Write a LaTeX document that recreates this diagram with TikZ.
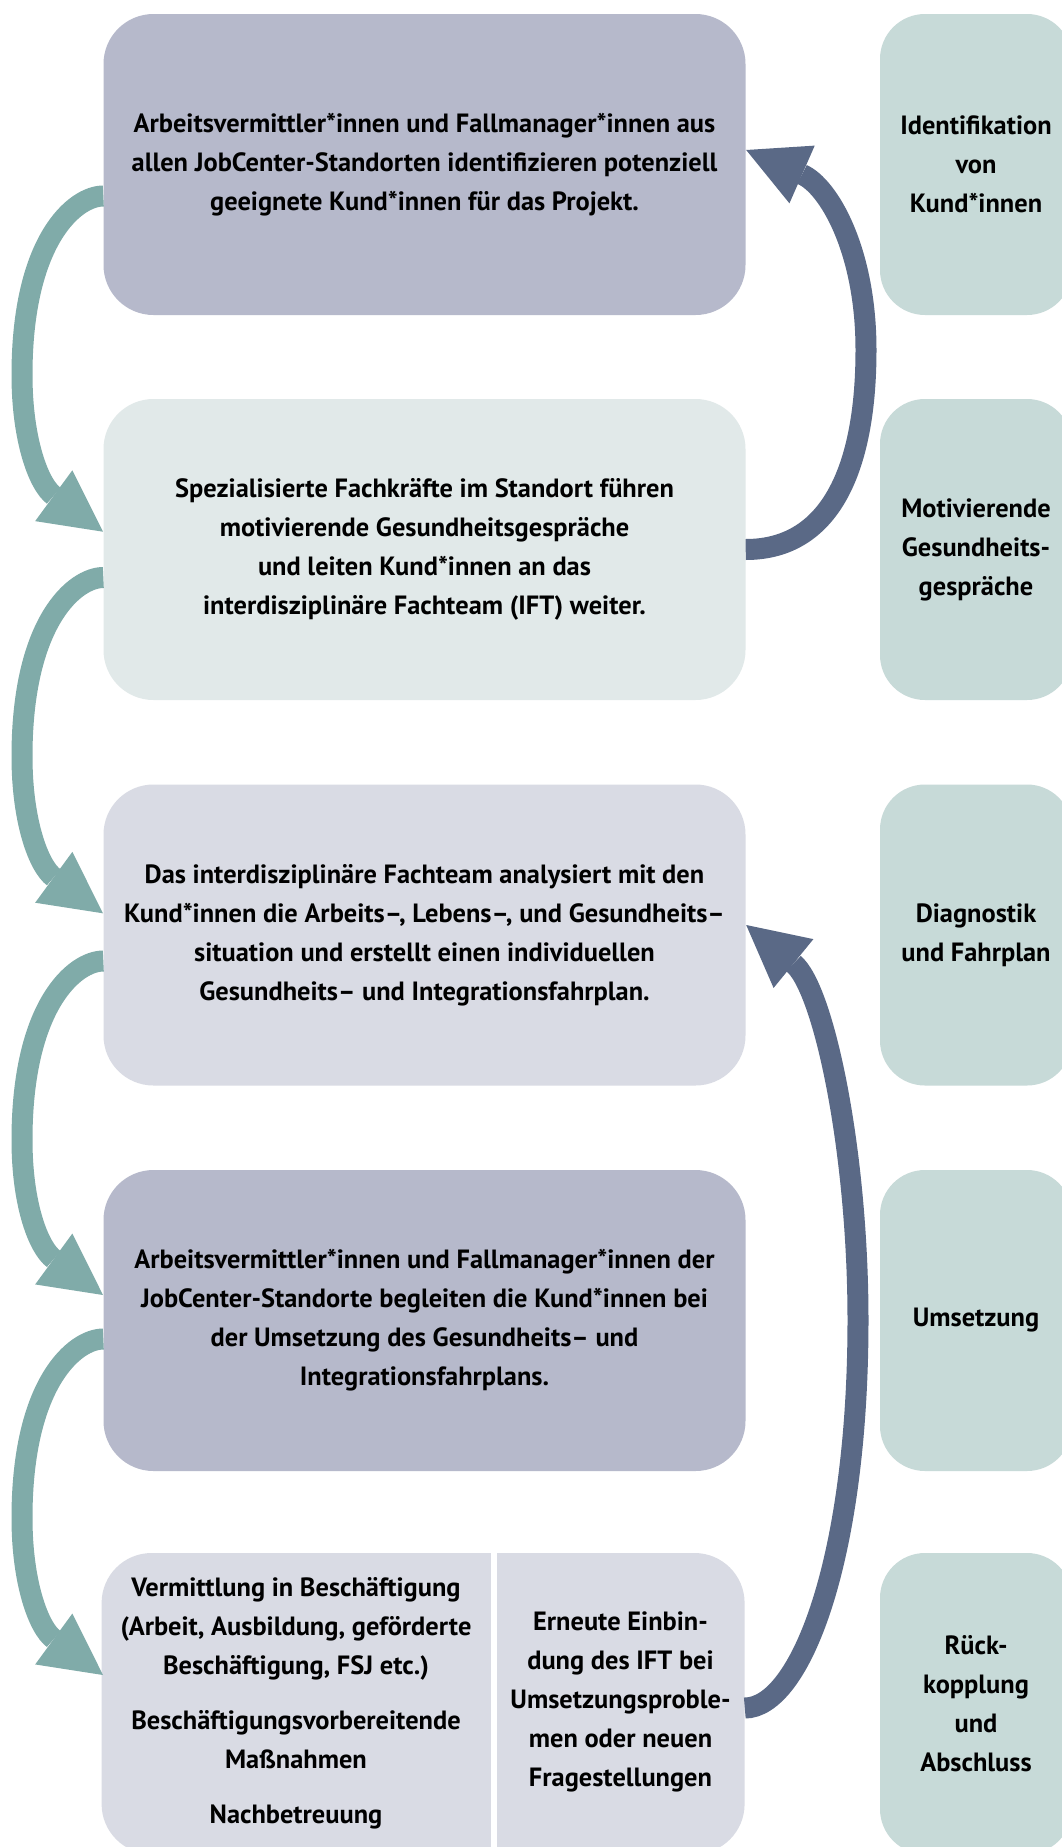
\documentclass[tikz,border=0pt]{standalone}
\usepackage{fontspec}
\setmainfont{PT Sans}
\usetikzlibrary{arrows.meta,calc}
\definecolor{boxA}{HTML}{B6B9CB}
\definecolor{boxB}{HTML}{E1E9E9}
\definecolor{boxC}{HTML}{D9DBE4}
\definecolor{sidec}{HTML}{C7DAD8}
\definecolor{tealc}{HTML}{80ABA9}
\definecolor{navyc}{HTML}{5A6986}
\tikzset{
  txt/.style={font=\bfseries\fontsize{26.4}{39}\selectfont, align=center, text=black},
  mainbox/.style={txt, rounded corners=50pt, minimum width=642pt, minimum height=301pt, inner sep=0pt},
  sidebox/.style={txt, fill=sidec, rounded corners=45pt, minimum width=192pt, minimum height=301pt, inner sep=0pt},
  tarrow/.style={draw=tealc, line width=21pt, -{Triangle[length=61pt,width=63pt,line width=0pt]}},
  narrow/.style={draw=navyc, line width=21pt, -{Triangle[length=61pt,width=63pt,line width=0pt]}}
}
\begin{document}
\begin{tikzpicture}[x=1pt,y=-1pt]
\useasboundingbox (0,0) rectangle (1061,1847);
\fill[white] (0,0) rectangle (1061,1847);
% main boxes
\node[mainbox, fill=boxA] (b1) at (424.5,164.5) {Arbeitsvermittler*innen und Fallmanager*innen aus\\allen JobCenter-Standorten identifizieren potenziell\\geeignete Kund*innen für das Projekt.};
\node[mainbox, fill=boxB] (b2) at (424.5,549.5) {Spezialisierte Fachkräfte im Standort führen\\motivierende Gesundheitsgespräche\\und leiten Kund*innen an das\\interdisziplinäre Fachteam (IFT) weiter.};
\node[mainbox, fill=boxC] (b3) at (424.5,935) {Das interdisziplinäre Fachteam analysiert mit den\\Kund*innen die Arbeits–, Lebens–, und Gesundheits–\\situation und erstellt einen individuellen\\Gesundheits– und Integrationsfahrplan.};
\node[mainbox, fill=boxA] (b4) at (424.5,1320.5) {Arbeitsvermittler*innen und Fallmanager*innen der\\JobCenter-Standorte begleiten die Kund*innen bei\\der Umsetzung des Gesundheits– und\\Integrationsfahrplans.};
\node[mainbox, fill=boxC, minimum width=643pt] (b5) at (423.1,1703.5) {};
\draw[white, line width=6pt] (b5.north -| 494,0) -- (b5.south -| 494,0);
\node[txt] (b5l) at (296,1703) {Vermittlung in Beschäftigung\\(Arbeit, Ausbildung, geförderte\\Beschäftigung, FSJ etc.)\\[16pt]Beschäftigungsvorbereitende\\Maßnahmen\\[16pt]Nachbetreuung};
\node[txt] (b5r) at (620.5,1702) {Erneute Einbin-\\dung des IFT bei\\Umsetzungsproble-\\men oder neuen\\Fragestellungen};
% side boxes
\node[sidebox] (s1) at (976,164.5) {Identifikation\\von\\Kund*innen};
\node[sidebox] (s2) at (976,549.5) {Motivierende\\Gesundheits-\\gespräche};
\node[sidebox] (s3) at (976,935) {Diagnostik\\und Fahrplan};
\node[sidebox] (s4) at (976,1320.5) {Umsetzung};
\node[sidebox] (s5) at (976,1703.5) {Rück-\\kopplung\\und\\Abschluss};
% teal arrows on the left
\draw[tarrow] ($(b1.west)+(0,31.5)$) .. controls (75,196) and (22,240) .. (22,375) .. controls (22,440) and (38.7,484.7) .. ($(b2.west)+(-0.3,-17.8)$);
\draw[tarrow] ($(b2.west)+(0,28)$) .. controls (75,577.5) and (22,621.5) .. (22,756.5) .. controls (22,821.5) and (38.7,866.3) .. ($(b3.west)+(-0.3,-21.7)$);
\draw[tarrow] ($(b3.west)+(0,26)$) .. controls (75,961) and (22,1005) .. (22,1140) .. controls (22,1205) and (38.7,1248) .. ($(b4.west)+(-0.3,-25.5)$);
\draw[tarrow] ($(b4.west)+(0,18.5)$) .. controls (75,1339) and (22,1383) .. (22,1518) .. controls (22,1583) and (38.7,1628) .. ($(b5.west)+(1.6,-28.5)$);
% navy arrows on the right
\draw[narrow] (b2.east) .. controls (835,549.5) and (866,460) .. (866,350) .. controls (866,250) and (828.4,186) .. ($(b1.east)+(0.5,-14.5)$);
\draw[narrow] ($(b5.east)+(0,4.5)$) .. controls (800,1708) and (858,1560) .. (858,1320) .. controls (858,1150) and (823.5,988) .. ($(b3.east)+(0.5,-10)$);
\end{tikzpicture}
\end{document}
